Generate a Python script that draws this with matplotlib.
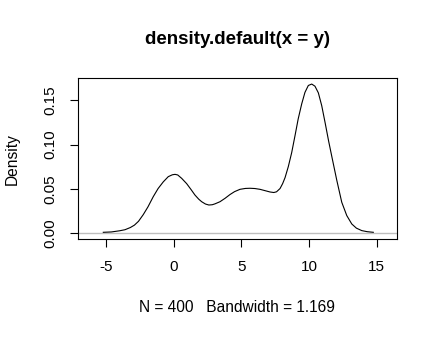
import matplotlib
matplotlib.use("Agg")
import matplotlib.pyplot as plt

# Kernel density estimate, sampled along the curve
dens_x = [-5.2, -4.6, -4.0, -3.6, -3.2, -2.9, -2.6, -2.25, -1.9, -1.51,
          -1.15, -0.77, -0.4, -0.1, 0.1, 0.3, 0.59, 0.96, 1.3, 1.57,
          1.85, 2.07, 2.35, 2.6, 2.85, 3.05, 3.42, 3.8, 4.16, 4.5,
          4.9, 5.3, 5.64, 6.0, 6.38, 6.75, 7.12, 7.4, 7.6, 7.86,
          8.05, 8.23, 8.47, 8.72, 8.97, 9.2, 9.46, 9.7, 9.95, 10.2,
          10.44, 10.69, 10.94, 11.2, 11.45, 11.68, 12.05, 12.42, 12.79, 13.16,
          13.5, 13.9, 14.3, 14.75]
dens_y = [0.0011, 0.0015, 0.0028, 0.0040, 0.0065, 0.0092, 0.0135, 0.0210, 0.0298, 0.0413,
          0.0505, 0.0580, 0.0639, 0.0660, 0.0665, 0.0658, 0.0620, 0.0560, 0.0490, 0.0432,
          0.0385, 0.0356, 0.0330, 0.0319, 0.0322, 0.0332, 0.0356, 0.0395, 0.0437, 0.0470,
          0.0496, 0.0506, 0.0508, 0.0505, 0.0496, 0.0481, 0.0466, 0.0460, 0.0468, 0.0505,
          0.0560, 0.0628, 0.0752, 0.0910, 0.1105, 0.1290, 0.1460, 0.1590, 0.1668, 0.1684,
          0.1660, 0.1585, 0.1440, 0.1240, 0.1040, 0.0870, 0.0600, 0.0350, 0.0200, 0.0105,
          0.0058, 0.0030, 0.0018, 0.0011]

x_ticks = [-5, 0, 5, 10, 15]
y_ticks = [0.00, 0.05, 0.10, 0.15]
y_tick_labels = ["0.00", "0.05", "0.10", "0.15"]

title = "density.default(x = y)"
x_label = "N = 400   Bandwidth = 1.169"
y_label = "Density"

plt.rcParams["font.family"] = ["Liberation Sans", "DejaVu Sans"]

W, H = 437, 337
fig = plt.figure(figsize=(W / 100, H / 100), dpi=100)
fig.patch.set_facecolor("white")

left, right, top, bottom = 78, 396.7, 78.3, 239.3
ax = fig.add_axes([left / W, 1 - bottom / H, (right - left) / W, (bottom - top) / H])

ax.axhline(0, color="#bebebe", lw=1.0, zorder=1)
ax.plot(dens_x, dens_y, color="black", lw=0.8, zorder=2,
        solid_joinstyle="round", antialiased=True)

ax.set_xlim(-7.07, 16.48)
ax.set_ylim(-0.0068, 0.1749)

ax.set_xticks(x_ticks)
ax.set_xticklabels([str(t) for t in x_ticks])
ax.set_yticks(y_ticks)
ax.set_yticklabels(y_tick_labels, rotation=90, va="center")

ax.tick_params(axis="both", direction="out", length=6, width=0.8,
               labelsize=11, color="black")
ax.tick_params(axis="x", pad=9)
ax.tick_params(axis="y", pad=9)

for s in ax.spines.values():
    s.set_linewidth(0.8)
    s.set_color("black")

fig.text(237.3 / W, 1 - 40 / H, title, ha="center", va="center",
         fontsize=13.5, fontweight="bold")
fig.text(237.3 / W, 1 - 307.3 / H, x_label, ha="center", va="center", fontsize=11.2)
fig.text(12.7 / W, 1 - 158.8 / H, y_label, ha="center", va="center",
         rotation=90, fontsize=11.2)

fig.savefig("out.png", dpi=100, facecolor="white")
